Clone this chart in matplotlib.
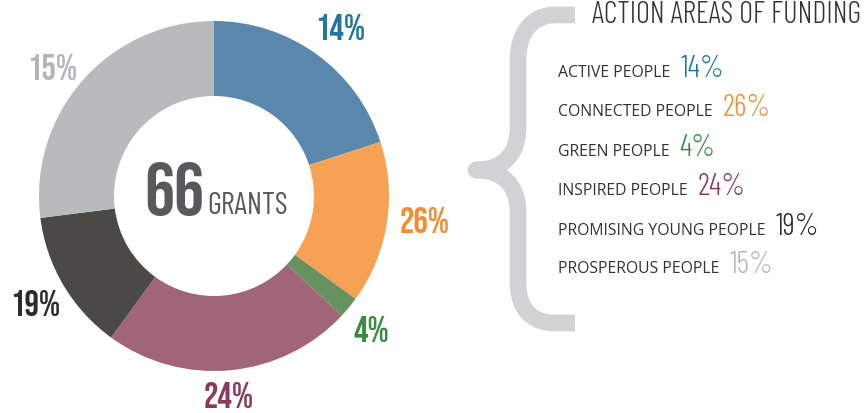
import matplotlib
matplotlib.use('Agg')
import matplotlib.pyplot as plt
from matplotlib.path import Path
import matplotlib.patches as patches

# data
areas = ['ACTIVE PEOPLE', 'CONNECTED PEOPLE', 'GREEN PEOPLE', 'INSPIRED PEOPLE',
         'PROMISING YOUNG PEOPLE', 'PROSPEROUS PEOPLE']
pct_labels = [14, 26, 4, 24, 19, 15]
# wedge sizes as drawn in the picture (they do not follow the labels)
wedge_sizes = [20, 15, 2, 23, 13, 27]
n_grants = 66

wedge_colors = ['#5a88ad', '#f7a155', '#67925f', '#a06577', '#4b4946', '#b9babc']
text_colors = ['#22759f', '#f68b32', '#3b8a41', '#8a3a5c', '#2b2b2b', '#b3b5b8']

bebas = ['Bebas Neue', 'DejaVu Sans']
thin = ['Barlow Condensed', 'DejaVu Sans']
plain = ['Open Sans', 'DejaVu Sans']

W, H = 865, 413
fig = plt.figure(figsize=(W / 100, H / 100), dpi=100)
ax = fig.add_axes([0, 0, 1, 1])

cx, cy = 214, H - 196
R, r_in = 175, 100
ax.pie(wedge_sizes, colors=wedge_colors, startangle=90, counterclock=False,
       radius=R, center=(cx, cy),
       wedgeprops=dict(width=R - r_in, edgecolor='none'))
ax.set_xlim(0, W)
ax.set_ylim(0, H)
ax.set_aspect('equal')
ax.axis('off')

# percentage labels round the ring (left x, baseline y in image pixels)
lab_pos = [(315, 40), (400, 233), (353, 342), (204, 408), (10, 316), (27, 80)]
for (x, y), p, c in zip(lab_pos, pct_labels, text_colors):
    ax.text(x, H - y, f'{p}%', color=c, fontsize=26,
            family=bebas, ha='left', va='baseline')

# centre text
ax.text(144, H - 215, str(n_grants), color='#58595b', fontsize=54,
        family=bebas, ha='left', va='baseline')
ax.text(207, H - 214, 'GRANTS', color='#58595b', fontsize=22,
        family=thin, fontweight=400, ha='left', va='baseline')

# curly brace
verts = [(575, 15), (555, 15),
         (533, 15), (518, 32), (518, 60),
         (518, 128),
         (518, 155), (502, 170), (476, 170),
         (502, 170), (518, 185), (518, 212),
         (518, 282),
         (518, 310), (533, 323), (555, 323),
         (575, 323)]
codes = [Path.MOVETO, Path.LINETO,
         Path.CURVE4, Path.CURVE4, Path.CURVE4,
         Path.LINETO,
         Path.CURVE4, Path.CURVE4, Path.CURVE4,
         Path.CURVE4, Path.CURVE4, Path.CURVE4,
         Path.LINETO,
         Path.CURVE4, Path.CURVE4, Path.CURVE4,
         Path.LINETO]
verts = [(x, H - y) for x, y in verts]
brace = patches.PathPatch(Path(verts, codes), fill=False, edgecolor='#d1d2d4',
                          linewidth=12, capstyle='butt', joinstyle='round')
ax.add_patch(brace)

# title
ax.text(592, H - 23, 'ACTION AREAS OF FUNDING', color='#333333', fontsize=21.9,
        family=thin, fontweight=300, ha='left', va='baseline')

# legend rows
row_base = [77, 116, 156, 195, 235, 273]
fig.canvas.draw()
for name, p, c, y in zip(areas, pct_labels, text_colors, row_base):
    t = ax.text(558, H - y, name, color='#333333', fontsize=11.3,
                family=plain, ha='left', va='baseline')
    bb = t.get_window_extent(renderer=fig.canvas.get_renderer())
    ax.text(bb.x1 + 10, H - y, f'{p}%', color=c, fontsize=22,
            family=thin, fontweight=300, ha='left', va='baseline')

fig.savefig('out.png', dpi=100, facecolor='white')
